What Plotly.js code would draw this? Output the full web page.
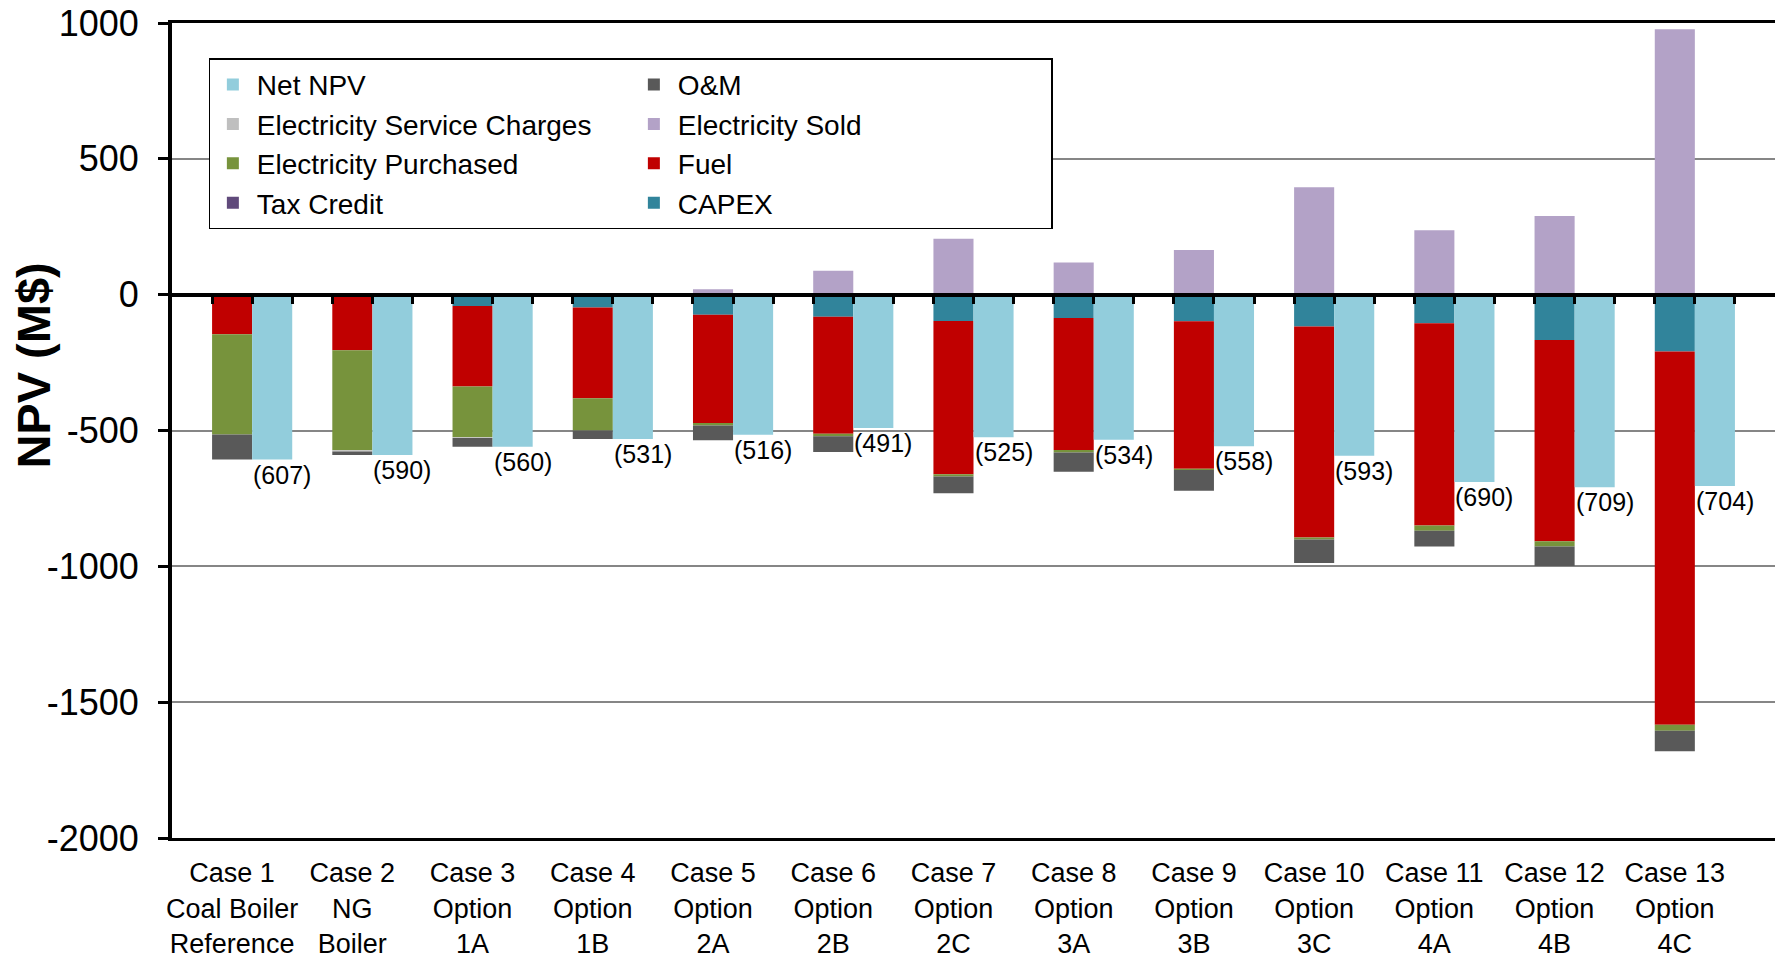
<!DOCTYPE html>
<html>
<head>
<meta charset="utf-8">
<script src="https://cdn.plot.ly/plotly-3.0.1.min.js"></script>
<style>html,body{margin:0;padding:0;background:#fff;}#chart{width:1775px;height:964px;}</style>
</head>
<body>
<div id="chart"></div>
<script>
// ---- data (M$) ----
const caseLabels = ["Case 1<br>Coal Boiler<br>Reference", "Case 2<br>NG<br>Boiler", "Case 3<br>Option<br>1A", "Case 4<br>Option<br>1B", "Case 5<br>Option<br>2A", "Case 6<br>Option<br>2B", "Case 7<br>Option<br>2C", "Case 8<br>Option<br>3A", "Case 9<br>Option<br>3B", "Case 10<br>Option<br>3C", "Case 11<br>Option<br>4A", "Case 12<br>Option<br>4B", "Case 13<br>Option<br>4C"];
const netNPV        = [-607, -590, -560, -531, -516, -491, -525, -534, -558, -593, -690, -709, -704];
const capex         = [0, 0, -42, -47, -74, -81, -97, -86, -98, -117, -105, -167, -209];
const fuel          = [-146, -205, -296, -334, -398, -431, -564, -486, -543, -777, -745, -741, -1374];
const elecPurchased = [-369, -368, -187, -119, -10, -9, -8, -9, -4, -7, -19, -19, -22];
const elecService   = [0, -4, -3, 0, 0, 0, 0, 0, 0, 0, 0, 0, 0];
const om            = [-92, -13, -32, -31, -54, -58, -62, -71, -77, -87, -58, -72, -76];
const elecSold      = [0, 0, 0, 0, 20, 88, 206, 118, 164, 395, 237, 290, 977];
const taxCredit     = [0, 0, 0, 0, 0, 0, 0, 0, 0, 0, 0, 0, 0];
const yTicks        = [-2000, -1500, -1000, -500, 0, 500, 1000];
const yTickText     = ['-2000', '-1500', '-1000', '-500', '0', '500', '1000'];
const yTitle        = 'NPV (M$)';

// each case occupies 3 slots: components bar, net bar, gap
const compX = caseLabels.map((_, i) => 3 * i);
const netX  = caseLabels.map((_, i) => 3 * i + 1);
const boundaryTicks = [];
caseLabels.forEach((_, i) => { boundaryTicks.push(3 * i - 0.5, 3 * i + 0.5, 3 * i + 1.5); });

const arial = "'Liberation Sans', Arial, sans-serif";

function comp(name, y, color, group) {
  return {type: 'bar', name: name, x: compX, y: y, width: 1, legendgroup: group,
          marker: {color: color, line: {width: 0}}, hoverinfo: 'skip'};
}

// stacking order (from zero outward) = trace order
const cCapex = comp('CAPEX', capex, '#31849B', 'b');
const cFuel = comp('Fuel', fuel, '#C00000', 'b');
const cPurch = comp('Electricity Purchased', elecPurchased, '#77933C', 'a');
const cServ = comp('Electricity Service Charges', elecService, '#BFBFBF', 'a');
const cOM = comp('O&M', om, '#595959', 'b');
const cSold = comp('Electricity Sold', elecSold, '#B3A2C7', 'b');
const cTax = comp('Tax Credit', taxCredit, '#604A7B', 'a');
const cNet = {type: 'bar', name: 'Net NPV', x: netX, y: netNPV, width: 1, xaxis: 'x2', legendgroup: 'a',
   marker: {color: '#92CDDC', line: {width: 0}}, hoverinfo: 'skip'};
// legend ranks (column a: Net NPV, Service, Purchased, Tax; column b: O&M, Sold, Fuel, CAPEX)
cNet.legendrank = 1; cServ.legendrank = 2; cPurch.legendrank = 3; cTax.legendrank = 4;
cOM.legendrank = 5; cSold.legendrank = 6; cFuel.legendrank = 7; cCapex.legendrank = 8;

const traces = [cCapex, cFuel, cPurch, cServ, cOM, cSold, cTax, cNet];

const annotations = netNPV.map((v, i) => ({
  x: netX[i], y: v, xref: 'x', yref: 'y', text: '(' + Math.abs(v) + ')',
  showarrow: false, xanchor: 'center', yanchor: 'top', xshift: 10, yshift: 1,
  font: {family: arial, size: 25, color: '#000'}
}));
annotations.push({
  xref: 'paper', yref: 'paper', x: -0.0864, y: 0.579, xanchor: 'center', yanchor: 'middle',
  text: yTitle, textangle: -90, showarrow: false,
  font: {family: arial, size: 47, color: '#000', weight: 'bold'}
});

const layout = {
  width: 1775, height: 964,
  margin: {l: 172, r: 0, t: 23, b: 126},
  paper_bgcolor: '#fff', plot_bgcolor: '#fff',
  barmode: 'relative',
  showlegend: true,
  legend: {orientation: 'h', x: 0.023, y: 0.9566, xanchor: 'left', yanchor: 'top',
           traceorder: 'grouped', tracegroupgap: 0, entrywidth: 368, itemwidth: 38,
           bgcolor: '#fff', bordercolor: '#000', borderwidth: 1.5,
           font: {family: arial, size: 28, color: '#000'}},
  xaxis: {range: [-1.5, 38.5], tickmode: 'array', tickvals: compX, ticktext: caseLabels,
          tickangle: 0, ticks: '', showgrid: false, zeroline: false, showline: true, linecolor: '#000',
          linewidth: 3, mirror: true, ticklabelstandoff: 9,
          tickfont: {family: arial, size: 27, color: '#000'}},
  xaxis2: {overlaying: 'x', anchor: 'free', position: 2 / 3, side: 'bottom',
           range: [-1.5, 38.5], tickmode: 'array', tickvals: boundaryTicks,
           ticks: 'outside', ticklen: 7, tickwidth: 3, tickcolor: '#000',
           showticklabels: false, showgrid: false, zeroline: false,
           showline: true, linecolor: '#000', linewidth: 4},
  yaxis: {range: [-2000, 1000], tickmode: 'array', tickvals: yTicks, ticktext: yTickText,
          showgrid: true, gridcolor: '#868686', gridwidth: 2,
          zeroline: true, zerolinecolor: '#000', zerolinewidth: 4,
          showline: true, linecolor: '#000', linewidth: 4,
          ticks: 'outside', ticklen: 10, tickwidth: 3, tickcolor: '#000',
          ticklabelstandoff: 12,
          tickfont: {family: arial, size: 36, color: '#000'}},
  annotations: annotations
};

Plotly.newPlot('chart', traces, layout, {staticPlot: true, displayModeBar: false});
</script>
</body>
</html>
